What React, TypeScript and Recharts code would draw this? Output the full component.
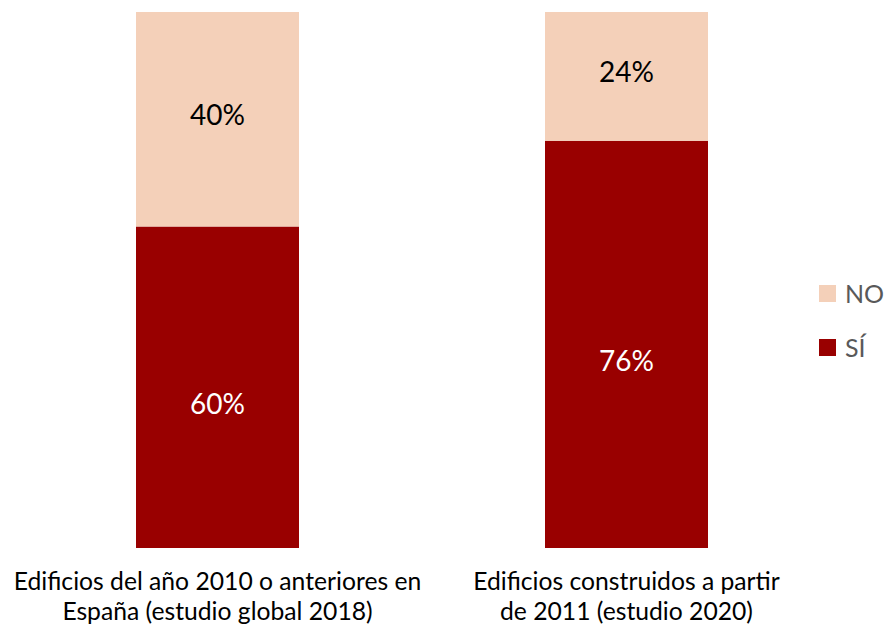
import { Bar, BarChart, LabelList, XAxis, YAxis } from "recharts";

const categories = [
  "Edificios del año 2010 o anteriores en|España (estudio global 2018)",
  "Edificios construidos a partir|de 2011 (estudio 2020)",
];
const siValues = [60, 76];
const noValues = [40, 24];
const legendItems = [
  { label: "NO", color: "#F4D0B9" },
  { label: "SÍ", color: "#990000" },
];

const data = categories.map((name, i) => ({ name, si: siValues[i], no: noValues[i] }));

const FONT = "Lato, 'Open Sans', sans-serif";

function CategoryTick({ x, y, payload }: any) {
  const lines = String(payload.value).split("|");
  return (
    <text x={x} y={y} textAnchor="middle" fontFamily={FONT} fontSize={24.7} fill="#000">
      {lines.map((l, i) => (
        <tspan key={i} x={x} dy={i === 0 ? 34 : 30}>
          {l}
        </tspan>
      ))}
    </text>
  );
}

function pct(v: any) {
  return `${v}%`;
}

export default function App() {
  return (
    <div style={{ position: "absolute", left: 0, top: 0, width: 890, height: 626, background: "#fff" }}>
      <BarChart
        width={890}
        height={626}
        data={data}
        margin={{ top: 12, right: 59, left: 13, bottom: 0 }}
      >
        <XAxis
          dataKey="name"
          height={78}
          axisLine={false}
          tickLine={false}
          interval={0}
          tick={<CategoryTick />}
        />
        <YAxis hide domain={[0, 100]} />
        <Bar dataKey="si" stackId="a" fill="#990000" barSize={163} isAnimationActive={false}>
          <LabelList
            dataKey="si"
            position="center"
            formatter={pct}
            fill="#fff"
            fontSize={28}
            fontFamily={FONT}
            dy={17}
          />
        </Bar>
        <Bar dataKey="no" stackId="a" fill="#F4D0B9" barSize={163} isAnimationActive={false}>
          <LabelList
            dataKey="no"
            position="center"
            formatter={pct}
            fill="#000"
            fontSize={28}
            fontFamily={FONT}
            dy={-4}
          />
        </Bar>
      </BarChart>
      <div style={{ position: "absolute", left: 819, top: 266, fontFamily: FONT }}>
        {legendItems.map((it) => (
          <div key={it.label} style={{ display: "flex", alignItems: "center", height: 54 }}>
            <span style={{ width: 17, height: 17, background: it.color, marginRight: 9 }} />
            <span style={{ fontSize: 25, color: "#595959" }}>{it.label}</span>
          </div>
        ))}
      </div>
    </div>
  );
}
